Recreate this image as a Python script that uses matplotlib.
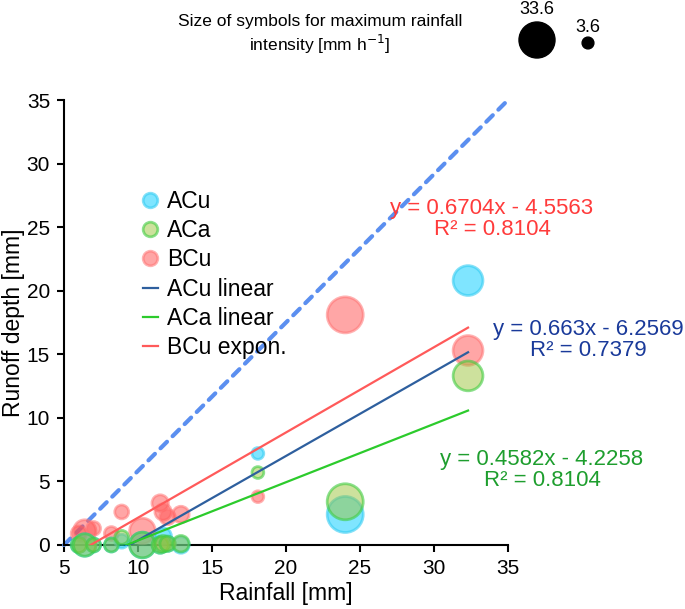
import matplotlib
matplotlib.use("Agg")
import matplotlib.pyplot as plt
from matplotlib.lines import Line2D
import numpy as np

plt.rcParams['font.family'] = ['Liberation Sans', 'DejaVu Sans']

# ---------------- data ----------------
rainfall = [6.0, 6.4, 7.0, 8.2, 8.9, 10.3, 11.5, 11.7, 12.0, 12.9, 18.1, 24.0, 32.3]
intensity = [6, 13, 5, 5, 5, 17, 7, 7, 6, 7, 3.6, 33.6, 23]
acu_runoff = [0.0, 0.0, 0.0, 0.0, 0.3, 0.0, 0.0, 0.7, 0.1, 0.0, 7.2, 2.4, 20.8]
aca_runoff = [0.0, 0.0, 0.0, 0.0, 0.6, 0.0, 0.0, 0.1, 0.1, 0.1, 5.7, 3.4, 13.3]
bcu_runoff = [0.9, 1.1, 1.3, 0.9, 2.6, 1.1, 3.3, 2.6, 2.2, 2.4, 3.8, 18.1, 15.3]

fit_slope = {'ACu': 0.663, 'ACa': 0.4582, 'BCu': 0.6704}
fit_icpt = {'ACu': -6.2569, 'ACa': -4.2258, 'BCu': -4.5563}
fit_r2 = {'ACu': 0.7379, 'ACa': 0.8104, 'BCu': 0.8104}

ref_x = [5, 35]
ref_y = [0, 35]

legend_sizes = [33.6, 3.6]

# ---------------- styling ----------------
DPI = 100
MAX_D_PX = 36.0


def size_pts2(I):
    I = np.asarray(I, dtype=float)
    d_px = MAX_D_PX * np.sqrt(I / 33.6)
    d_pt = d_px * 72.0 / DPI
    return d_pt ** 2


fig = plt.figure(figsize=(6.85, 6.09), dpi=DPI)
W, H = 685, 609
ax = fig.add_axes([64 / W, (H - 545) / H, (508 - 64) / W, (545 - 100) / H])

ax.plot(ref_x, ref_y, color='#5b8ff0', lw=3.0, ls=(0, (2.2, 1.9)),
        dash_capstyle='round', zorder=2, clip_on=False)

s = size_pts2(intensity)
sc_b = ax.scatter(rainfall, bcu_runoff, s=s, facecolor=(1.0, 0.31, 0.31, 0.5),
                  edgecolor=(1.0, 0.45, 0.45, 0.55), linewidth=2.0, zorder=3, clip_on=False)
sc_a = ax.scatter(rainfall, acu_runoff, s=s, facecolor=(0.0, 0.8, 1.0, 0.5),
                  edgecolor=(0.2, 0.8, 0.95, 0.6), linewidth=2.0, zorder=4, clip_on=False)
sc_c = ax.scatter(rainfall, aca_runoff, s=s, facecolor=(0.61, 0.77, 0.24, 0.5),
                  edgecolor=(0.25, 0.8, 0.25, 0.6), linewidth=2.0, zorder=5, clip_on=False)

line_cols = {'ACu': '#2e5f9e', 'ACa': '#2ccb2c', 'BCu': '#ff5a5a'}
xmax = max(rainfall)
for key in ['BCu', 'ACu', 'ACa']:
    x0 = -fit_icpt[key] / fit_slope[key]
    xs = np.array([x0, xmax])
    ax.plot(xs, fit_slope[key] * xs + fit_icpt[key], color=line_cols[key], lw=1.6, zorder=6)

ax.set_xlim(5, 35)
ax.set_ylim(0, 35)
ax.set_xticks(np.arange(5, 36, 5))
ax.set_yticks(np.arange(0, 36, 5))
for sp in ['top', 'right']:
    ax.spines[sp].set_visible(False)
for sp in ['left', 'bottom']:
    ax.spines[sp].set_linewidth(1.5)
ax.tick_params(direction='out', length=5, width=1.5, labelsize=15)
ax.tick_params(axis='y', pad=5)
ax.tick_params(axis='x', pad=5)
ax.set_xlabel('Rainfall [mm]', fontsize=16.5, labelpad=3)
ax.set_ylabel('Runoff depth [mm]', fontsize=16.5, labelpad=1)

# equations
eq_col = {'BCu': '#ff3b3b', 'ACu': '#1a3a9a', 'ACa': '#1e9e2e'}
eq_pos = {'BCu': (492, 207), 'ACu': (588, 328), 'ACa': (542, 458)}
for key in ['BCu', 'ACu', 'ACa']:
    px, py = eq_pos[key]
    txt = "y = {}x - {}\nR\u00b2 = {}".format(fit_slope[key], -fit_icpt[key], fit_r2[key])
    fig.text(px / W, 1 - (py + 12) / H, txt, color=eq_col[key], fontsize=16,
             ha='center', va='center', multialignment='center', linespacing=1.05)

# legend
handles = [
    Line2D([], [], ls='none', marker='o', markersize=10.5, markerfacecolor=(0.0, 0.8, 1.0, 0.5),
           markeredgecolor=(0.2, 0.8, 0.95, 0.6), markeredgewidth=2),
    Line2D([], [], ls='none', marker='o', markersize=10.5, markerfacecolor=(0.61, 0.77, 0.24, 0.5),
           markeredgecolor=(0.25, 0.8, 0.25, 0.6), markeredgewidth=2),
    Line2D([], [], ls='none', marker='o', markersize=10.5, markerfacecolor=(1.0, 0.31, 0.31, 0.5),
           markeredgecolor=(1.0, 0.45, 0.45, 0.55), markeredgewidth=2),
    Line2D([], [], color=line_cols['ACu'], lw=1.6),
    Line2D([], [], color=line_cols['ACa'], lw=1.6),
    Line2D([], [], color=line_cols['BCu'], lw=1.6),
]
labels = ['ACu', 'ACa', 'BCu', 'ACu linear', 'ACa linear', 'BCu expon.']
fig.legend(handles, labels, loc='upper left', bbox_to_anchor=(143 / W, 1 - 190 / H),
           frameon=False, fontsize=16.5, handlelength=0.65, handletextpad=0.4,
           labelspacing=0.27, borderpad=0, borderaxespad=0)

# header (symbol size key)
hax = fig.add_axes([0, 0, 1, 1], zorder=-1)
hax.set_xlim(0, W)
hax.set_ylim(H, 0)
hax.axis('off')
hax.scatter([537, 588], [40, 43], s=size_pts2(legend_sizes), color='black')
hax.text(537, 9, '{}'.format(legend_sizes[0]), ha='center', va='center', fontsize=13)
hax.text(588, 28, '{}'.format(legend_sizes[1]), ha='center', va='center', fontsize=13)
hax.text(320, 35, 'Size of symbols for maximum rainfall\nintensity [mm h$^{-1}$]', ha='center',
         va='center', fontsize=12.5, multialignment='center', linespacing=1.25)

fig.savefig('out.png', dpi=DPI)
